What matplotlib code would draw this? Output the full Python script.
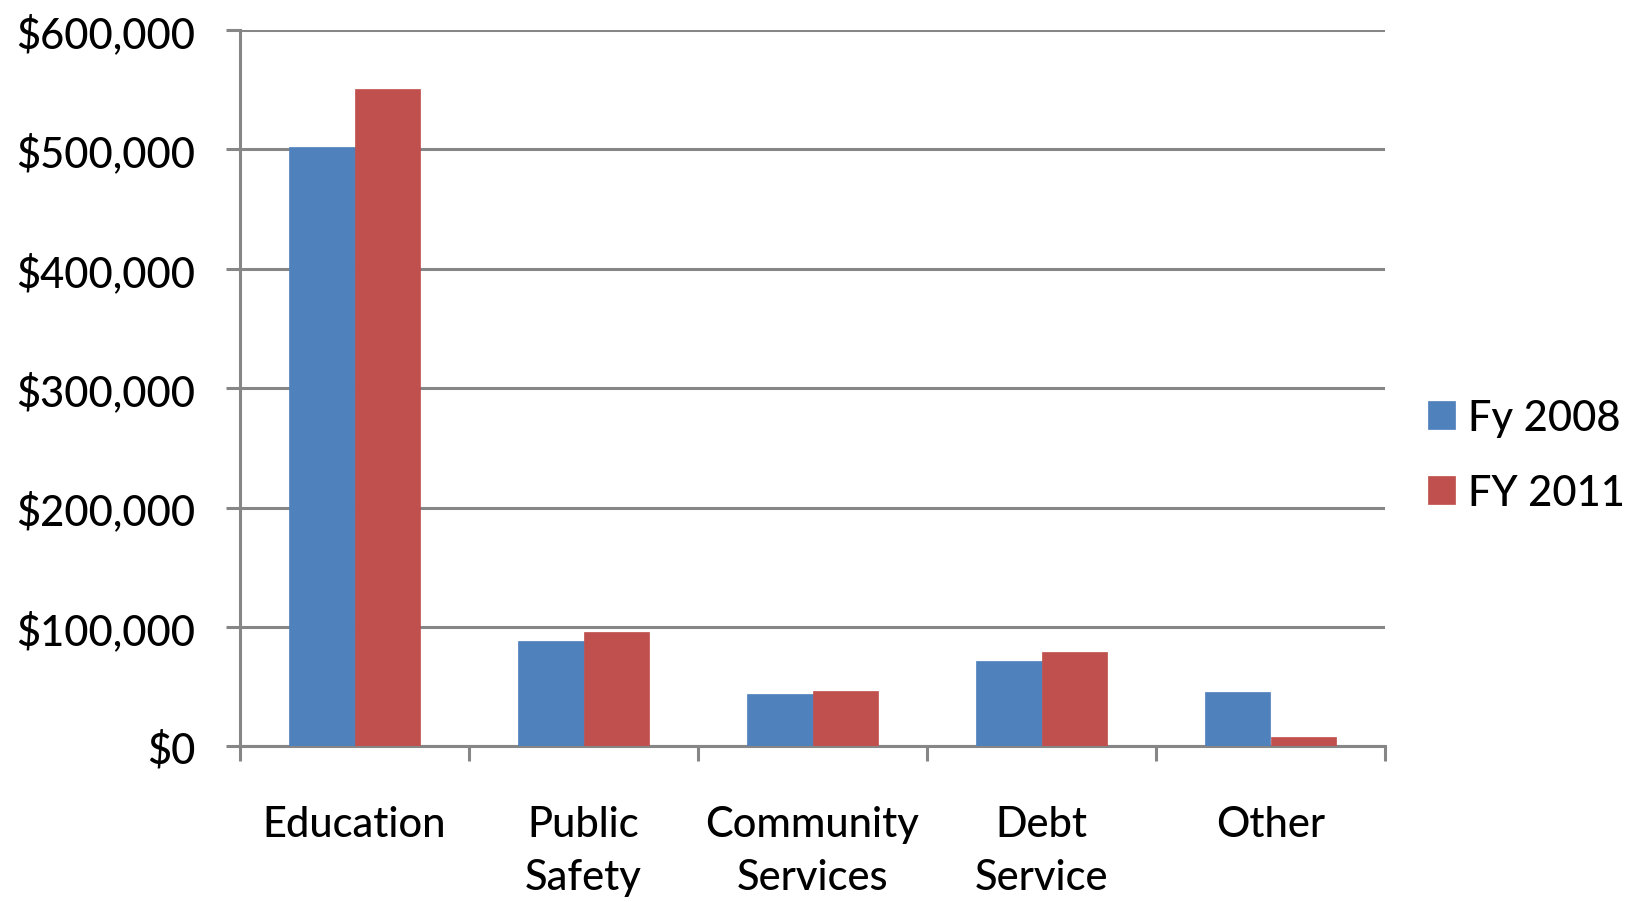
import matplotlib
matplotlib.use("Agg")
import matplotlib.pyplot as plt
import numpy as np
from matplotlib.ticker import FuncFormatter, FixedLocator

categories = ["Education", "Public\nSafety", "Community\nServices", "Debt\nService", "Other"]
series_names = ["Fy 2008", "FY 2011"]
fy2008 = [502000, 88000, 43800, 71700, 45700]
fy2011 = [550500, 95500, 46000, 79200, 7500]
yticks = [0, 100000, 200000, 300000, 400000, 500000, 600000]

plt.rcParams['font.family'] = ['Lato', 'DejaVu Sans']
plt.rcParams['font.weight'] = 'medium'
FS = 30

W, H = 1639, 903
fig = plt.figure(figsize=(W/100, H/100), dpi=100)
ax = fig.add_axes([240/W, 1-747.3/H, (1385-240)/W, (747.3-31)/H])

grey = "#868686"
x = np.arange(len(categories))
bw = 1/3.5
ax.bar(x - bw/2, fy2008, bw, color="#4F81BD", label=series_names[0], zorder=3,
       edgecolor="#4F81BD", linewidth=0.5)
ax.bar(x + bw/2, fy2011, bw, color="#C0504D", label=series_names[1], zorder=3,
       edgecolor="#C0504D", linewidth=0.5)

ax.set_xlim(-0.5, len(categories) - 0.5)
ax.set_ylim(0, 600000)
ax.set_yticks(yticks)
ax.yaxis.set_major_formatter(FuncFormatter(lambda v, p: "${:,.0f}".format(v)))
ax.yaxis.grid(True, color=grey, linewidth=2.2, zorder=0)
ax.set_axisbelow(True)

ax.set_xticks(x)
ax.set_xticklabels(categories, fontsize=FS, linespacing=1.5, va="top")
ax.xaxis.set_minor_locator(FixedLocator(np.arange(-0.5, len(categories), 1.0)))
ax.tick_params(axis="x", which="major", length=0, pad=42)
ax.tick_params(axis="x", which="minor", length=11, width=2.2, color=grey, direction="out")
ax.tick_params(axis="y", which="major", length=10, width=2.2, color=grey, labelsize=FS, pad=22)

for s in ["top", "right"]:
    ax.spines[s].set_visible(False)
for s in ["left", "bottom"]:
    ax.spines[s].set_color(grey)
    ax.spines[s].set_linewidth(2.2)

leg = fig.legend(loc="upper left", bbox_to_anchor=(1428/W, 1-400/H), frameon=False,
                 fontsize=FS, handlelength=0.65, handleheight=0.65, handletextpad=0.3,
                 labelspacing=0.88, borderaxespad=0, borderpad=0)

fig.savefig("out.png", dpi=100)
